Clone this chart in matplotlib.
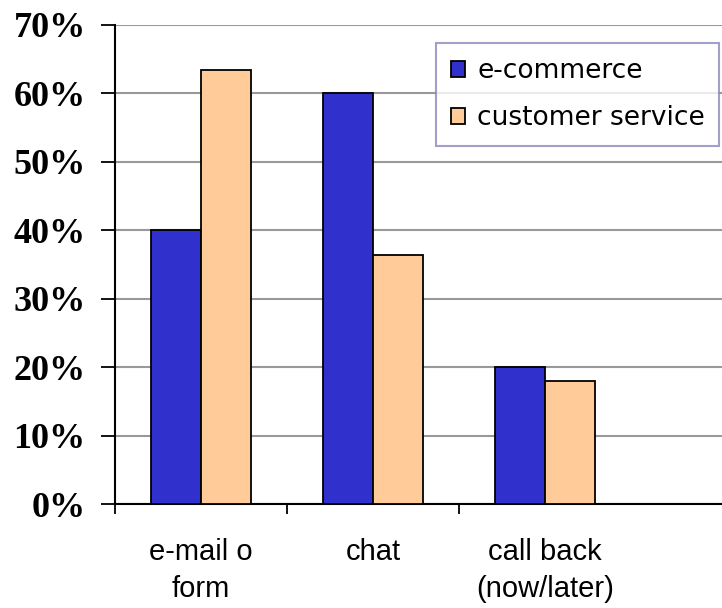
import numpy as np
import matplotlib
matplotlib.use('Agg')
import matplotlib.pyplot as plt
from matplotlib.ticker import FuncFormatter

# Data
categories = ['e-mail o\nform', 'chat', 'call back\n(now/later)']
ecommerce = [40.0, 60.0, 20.0]
customer_service = [63.4, 36.4, 18.0]

fig = plt.figure(figsize=(7.22, 6.08), dpi=100)
ax = fig.add_axes([0.159, 0.171, 0.841, 0.788])

x = np.arange(len(categories))
w = 0.29
ax.bar(x - w / 2, ecommerce, w, color='#3030cc', edgecolor='black', linewidth=1.3,
       label='e-commerce', zorder=3)
ax.bar(x + w / 2, customer_service, w, color='#ffcc99', edgecolor='black', linewidth=1.3,
       label='customer service', zorder=3)

ax.set_ylim(0, 70)
ax.set_xlim(-0.5, 3.03)
ax.set_yticks(np.arange(0, 71, 10))
ax.yaxis.set_major_formatter(FuncFormatter(lambda v, p: f'{int(v)}%'))
ax.yaxis.grid(True, color='#999999', linewidth=1.5, zorder=0)
ax.tick_params(axis='y', length=10, width=1.3, direction='out', pad=11)
for lab in ax.get_yticklabels():
    lab.set_family('Liberation Serif')
    lab.set_fontweight('bold')
    lab.set_fontsize(26)

ax.set_xticks([-0.5, 0.5, 1.5])
ax.set_xticklabels([])
ax.tick_params(axis='x', length=7, width=1.3, direction='out')
for i, c in enumerate(categories):
    ax.text(i, -5.0, c, ha='center', va='top', fontsize=21, family='Liberation Sans',
            linespacing=1.38)

for s in ['top', 'right']:
    ax.spines[s].set_visible(False)
ax.spines['left'].set_linewidth(1.5)
ax.spines['bottom'].set_linewidth(1.5)

leg = ax.legend(loc='upper right', bbox_to_anchor=(1.0, 0.967), prop={'family': 'DejaVu Sans', 'size': 19},
                frameon=True, fancybox=False, handlelength=0.55, handleheight=0.55,
                handletextpad=0.45, borderpad=0.55, labelspacing=0.8, borderaxespad=0.1)
leg.get_frame().set_edgecolor('#8888bb')
leg.get_frame().set_linewidth(1.5)

fig.savefig('out.png', dpi=100)
